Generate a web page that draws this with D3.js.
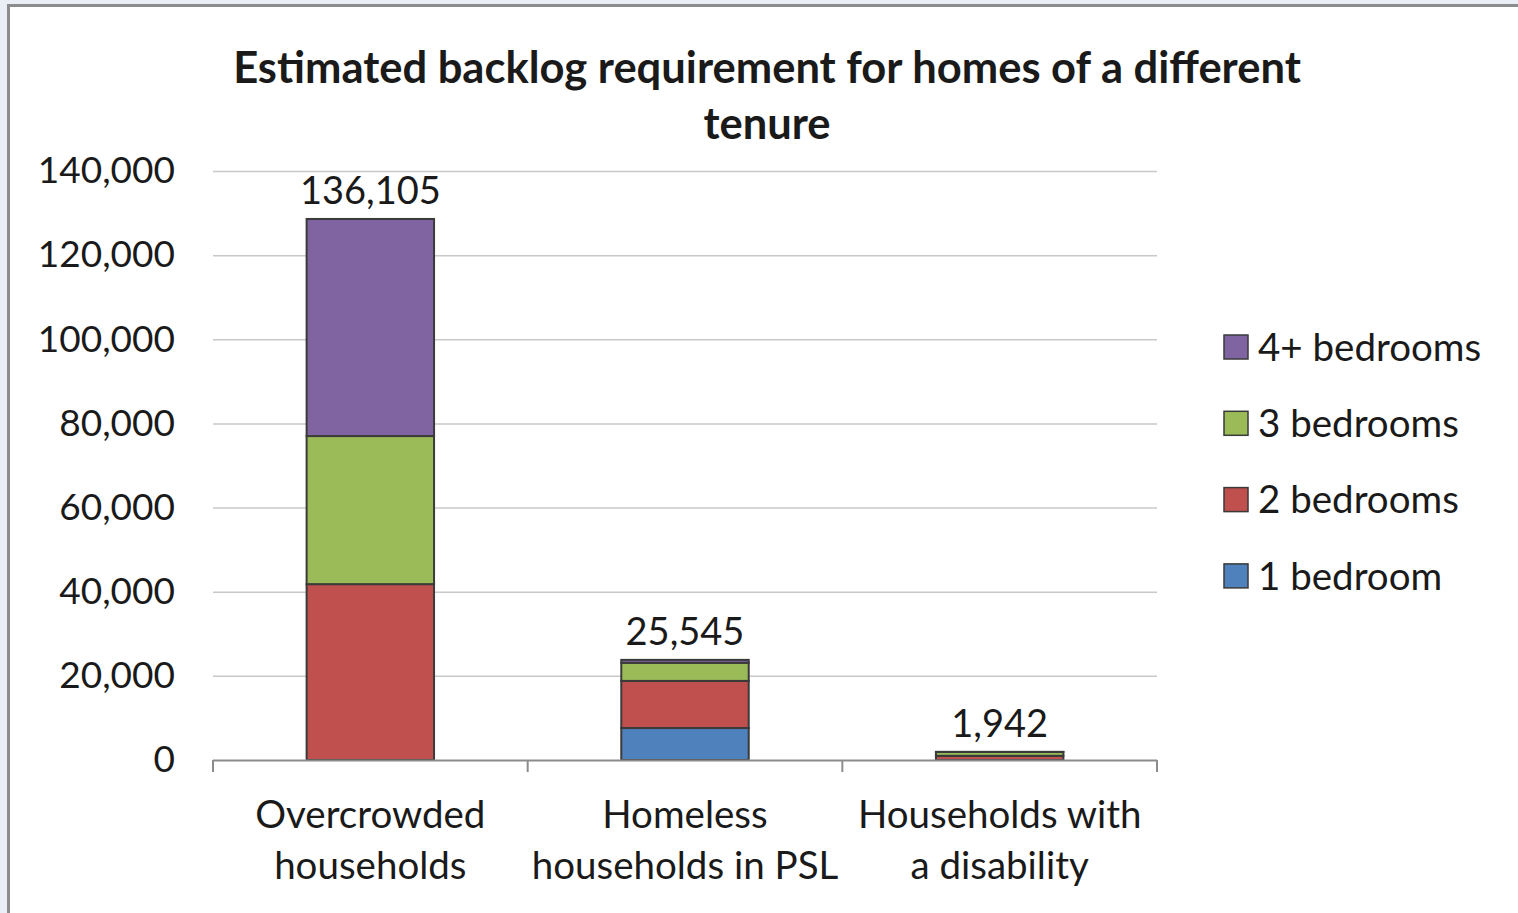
<!DOCTYPE html>
<html>
<head>
<meta charset="utf-8">
<script src="https://cdn.jsdelivr.net/npm/d3@7"></script>
<style>
  html, body { margin: 0; padding: 0; background: #eaeef7; }
  svg { display: block; }
  text { font-family: Lato, "Open Sans", sans-serif; fill: #1a1a1a; }
</style>
</head>
<body>
<svg id="chart" width="1518" height="913"></svg>
<script>
// Housing need categories (two-line labels) and bedroom-size series
const categories = ["Overcrowded households", "Homeless households in PSL", "Households with a disability"];
const categoryLines = [["Overcrowded", "households"], ["Homeless", "households in PSL"], ["Households with", "a disability"]];
const seriesNames = ["1 bedroom", "2 bedrooms", "3 bedrooms", "4+ bedrooms"];
const seriesColors = ["#4f81bd", "#c0504d", "#9bbb59", "#8064a2"];

// Homes needed by bedroom size, per category
const oneBed   = [0,     7600,  0];
const twoBed   = [41800, 11200, 1000];
const threeBed = [35200, 4300,  900];
const fourBed  = [51600, 700,   42];

// Stated totals shown above each column
const totals = [136105, 25545, 1942];

const yTicks = [0, 20000, 40000, 60000, 80000, 100000, 120000, 140000];

const svg = d3.select("#chart");

// Chart frame
svg.append("rect")
  .attr("x", 8.5).attr("y", 5.5)
  .attr("width", 1530).attr("height", 930)
  .attr("fill", "#ffffff")
  .attr("stroke", "#8c8c8c")
  .attr("stroke-width", 3);

const plot = { left: 213, right: 1157, top: 171, bottom: 760 };

const x = d3.scaleBand()
  .domain(categories)
  .range([plot.left, plot.right])
  .paddingInner(0.595)
  .paddingOuter(0.2975);

const y = d3.scaleLinear()
  .domain([0, 140000])
  .range([plot.bottom, plot.top]);

// Gridlines
svg.append("g")
  .selectAll("line")
  .data(yTicks.filter(d => d > 0))
  .join("line")
  .attr("x1", plot.left).attr("x2", plot.right)
  .attr("y1", d => y(d) + 0.5).attr("y2", d => y(d) + 0.5)
  .attr("stroke", "#c8c8c8")
  .attr("stroke-width", 1.5);

// Y axis labels
const yAxis = d3.axisLeft(y)
  .tickValues(yTicks)
  .tickFormat(d3.format(","))
  .tickSize(0)
  .tickPadding(38);
const gy = svg.append("g")
  .attr("transform", `translate(${plot.left},0)`)
  .call(yAxis);
gy.select(".domain").remove();
gy.selectAll("text")
  .attr("font-size", 37)
  .attr("fill", "#1a1a1a")
  .style("font-family", "Lato, sans-serif");

// Stacked bars
const rows = categories.map((c, i) => ({
  category: c,
  "1 bedroom": oneBed[i],
  "2 bedrooms": twoBed[i],
  "3 bedrooms": threeBed[i],
  "4+ bedrooms": fourBed[i]
}));
const stacked = d3.stack().keys(seriesNames)(rows);
const color = d3.scaleOrdinal().domain(seriesNames).range(seriesColors);

svg.append("g")
  .selectAll("g")
  .data(stacked)
  .join("g")
  .attr("fill", d => color(d.key))
  .selectAll("rect")
  .data(d => d.filter(s => s[1] - s[0] > 0))
  .join("rect")
  .attr("x", d => x(d.data.category))
  .attr("width", x.bandwidth())
  .attr("y", d => y(d[1]))
  .attr("height", d => y(d[0]) - y(d[1]))
  .attr("stroke", "#3a3a3a")
  .attr("stroke-width", 2);

// X axis line and category dividers
const ax = svg.append("g");
ax.append("line")
  .attr("x1", plot.left).attr("x2", plot.right)
  .attr("y1", plot.bottom + 0.5).attr("y2", plot.bottom + 0.5)
  .attr("stroke", "#8c8c8c").attr("stroke-width", 2);
const dividers = d3.range(categories.length + 1).map(i => plot.left + i * (plot.right - plot.left) / categories.length);
ax.selectAll("line.tick")
  .data(dividers)
  .join("line")
  .attr("class", "tick")
  .attr("x1", d => d).attr("x2", d => d)
  .attr("y1", plot.bottom).attr("y2", plot.bottom + 12)
  .attr("stroke", "#8c8c8c").attr("stroke-width", 2);

// Category labels
const catG = svg.append("g");
categories.forEach((c, i) => {
  const cx = x(c) + x.bandwidth() / 2;
  categoryLines[i].forEach((line, j) => {
    catG.append("text")
      .attr("x", cx)
      .attr("y", 828 + j * 51)
      .attr("text-anchor", "middle")
      .attr("font-size", 38.5)
      .attr("fill", "#1a1a1a")
      .text(line);
  });
});

// Total labels above each column
const tops = rows.map(r => seriesNames.reduce((s, k) => s + r[k], 0));
svg.append("g")
  .selectAll("text")
  .data(categories)
  .join("text")
  .attr("x", d => x(d) + x.bandwidth() / 2)
  .attr("y", (d, i) => y(tops[i]) - 15)
  .attr("text-anchor", "middle")
  .attr("font-size", 38)
  .text((d, i) => d3.format(",")(totals[i]));

// Title
const titleLines = ["Estimated backlog requirement for homes of a different", "tenure"];
const titleG = svg.append("g");
titleLines.forEach((t, j) => {
  titleG.append("text")
    .attr("x", 767)
    .attr("y", 83 + j * 56)
    .attr("text-anchor", "middle")
    .attr("font-size", 43.5)
    .attr("font-weight", 700)
    .attr("fill", "#111")
    .text(t);
});

// Legend (top-to-bottom in reverse series order)
const legendItems = seriesNames.slice().reverse();
const lg = svg.append("g");
legendItems.forEach((name, i) => {
  const cy = 347 + i * 76.3;
  lg.append("rect")
    .attr("x", 1224).attr("y", cy - 12)
    .attr("width", 24).attr("height", 24)
    .attr("fill", color(name))
    .attr("stroke", "#3a3a3a").attr("stroke-width", 1.5);
  lg.append("text")
    .attr("x", 1258).attr("y", cy)
    .attr("dy", "0.36em")
    .attr("font-size", 38.5)
    .text(name);
});
</script>
</body>
</html>
